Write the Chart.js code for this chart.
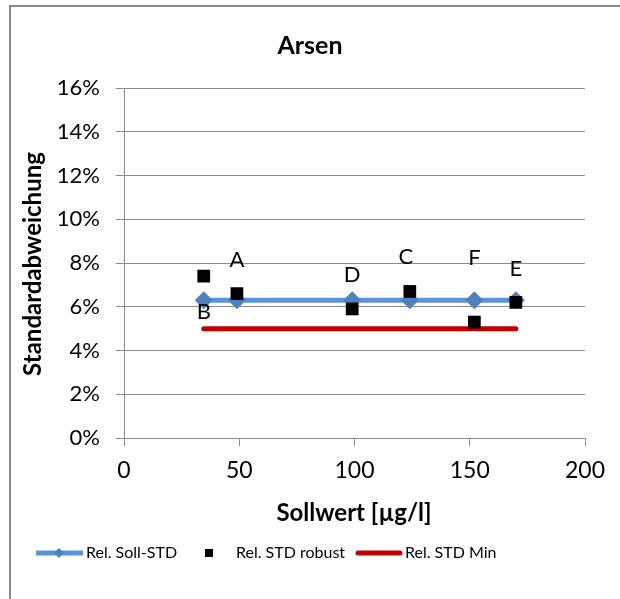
<!DOCTYPE html>
<html>
<head>
<meta charset="utf-8">
<script src="https://cdn.jsdelivr.net/npm/chart.js@4.4.1/dist/chart.umd.min.js"></script>
<style>
  html, body { margin: 0; padding: 0; background: #ffffff; }
  #wrap { position: relative; width: 620px; height: 599px; }
  canvas { display: block; }
</style>
</head>
<body>
<div id="wrap"><canvas id="c" width="620" height="599"></canvas></div>
<script>
// ---- data ----
const chartTitle = 'Arsen';
const xAxisTitle = 'Sollwert [µg/l]';
const yAxisTitle = 'Standardabweichung';
const sollwerte = [34.6, 49, 99, 124, 152, 170];
const relSollStd = [0.063, 0.063, 0.063, 0.063, 0.063, 0.063];
const relStdRobust = [0.074, 0.066, 0.059, 0.067, 0.053, 0.062];
const relStdMinX = [34.6, 170];
const relStdMin = [0.05, 0.05];
const pointLabels = ['B', 'A', 'D', 'C', 'F', 'E'];
const seriesNames = ['Rel. Soll-STD', 'Rel. STD robust', 'Rel. STD Min'];
const yTicks = [0, 0.02, 0.04, 0.06, 0.08, 0.10, 0.12, 0.14, 0.16];
const xTicks = [0, 50, 100, 150, 200];

const FONT = 'Lato, "Open Sans", sans-serif';
const BLUE_LINE = '#5b95d6';
const BLUE_MARK = '#4f81bd';
const RED = '#c00000';
const GRID = '#8c8c8c';

const toPts = (xs, ys) => xs.map((x, i) => ({ x: x, y: ys[i] }));

const decoPlugin = {
  id: 'deco',
  afterDraw(chart, args, opts) {
    const ctx = chart.ctx;
    ctx.save();
    // outer frame (left and top edges visible)
    ctx.strokeStyle = '#888888';
    ctx.lineWidth = 2;
    ctx.beginPath();
    ctx.moveTo(10, 599);
    ctx.lineTo(10, 6);
    ctx.lineTo(620, 6);
    ctx.stroke();

    // chart title
    ctx.fillStyle = '#000';
    ctx.textAlign = 'center';
    ctx.textBaseline = 'middle';
    ctx.font = 'bold 25px ' + FONT;
    ctx.fillText(chartTitle, 310, 46);

    // axis titles
    ctx.font = 'bold 24px ' + FONT;
    ctx.fillText(xAxisTitle, 354, 513);
    ctx.save();
    ctx.translate(33, 264);
    ctx.rotate(-Math.PI / 2);
    ctx.fillText(yAxisTitle, 0, 0);
    ctx.restore();

    // point labels (attached to the robust points)
    const meta = chart.getDatasetMeta(0);
    ctx.font = '22px ' + FONT;
    const offs = opts.labelOffsets;
    meta.data.forEach((el, i) => {
      const o = offs[i];
      ctx.fillText(pointLabels[i], el.x + o[0], el.y + o[1]);
    });

    // legend
    const ly = 553;
    ctx.font = '16px ' + FONT;
    ctx.textAlign = 'left';
    // series 1: blue line with diamond
    ctx.strokeStyle = BLUE_LINE;
    ctx.lineWidth = 5;
    ctx.lineCap = 'butt';
    ctx.beginPath(); ctx.moveTo(36, ly); ctx.lineTo(83, ly); ctx.stroke();
    ctx.fillStyle = BLUE_MARK;
    ctx.beginPath();
    ctx.moveTo(59 - 5, ly); ctx.lineTo(59, ly - 5); ctx.lineTo(59 + 5, ly); ctx.lineTo(59, ly + 5);
    ctx.closePath(); ctx.fill();
    ctx.fillStyle = '#000';
    ctx.fillText(seriesNames[0], 86, ly);
    // series 2: black square
    ctx.fillRect(205, ly - 4, 8, 8);
    ctx.fillText(seriesNames[1], 236, ly);
    // series 3: red line
    ctx.strokeStyle = RED;
    ctx.lineCap = 'round';
    ctx.beginPath(); ctx.moveTo(358, ly); ctx.lineTo(400, ly); ctx.stroke();
    ctx.fillText(seriesNames[2], 405, ly);
    ctx.restore();
  }
};

new Chart(document.getElementById('c'), {
  type: 'scatter',
  data: {
    datasets: [
      {
        label: seriesNames[1],
        data: toPts(sollwerte, relStdRobust),
        showLine: false,
        pointStyle: 'rect',
        pointRadius: 9,
        pointBackgroundColor: '#000',
        pointBorderColor: '#000',
        pointBorderWidth: 0
      },
      {
        label: seriesNames[0],
        data: toPts(sollwerte, relSollStd),
        showLine: true,
        borderColor: BLUE_LINE,
        borderWidth: 5,
        pointStyle: 'rectRot',
        pointRadius: 9,
        pointBackgroundColor: BLUE_MARK,
        pointBorderColor: BLUE_MARK,
        pointBorderWidth: 0
      },
      {
        label: seriesNames[2],
        data: toPts(relStdMinX, relStdMin),
        showLine: true,
        borderColor: RED,
        borderWidth: 5,
        borderCapStyle: 'round',
        pointRadius: 0
      }
    ]
  },
  options: {
    responsive: false,
    animation: false,
    events: [],
    layout: { padding: { left: 0, top: 88, right: 35, bottom: 0 } },
    plugins: {
      legend: { display: false },
      title: { display: false },
      tooltip: { enabled: false },
      deco: { labelOffsets: [[0, 36], [0, -34], [0, -34], [-4, -35], [0, -64], [0, -33]] }
    },
    scales: {
      x: {
        type: 'linear',
        min: 0, max: 200,
        afterBuildTicks: s => { s.ticks = xTicks.map(v => ({ value: v })); },
        ticks: { font: { family: FONT, size: 23 }, color: '#000', padding: 11, maxRotation: 0 },
        grid: { drawOnChartArea: false, drawTicks: true, tickLength: 8, color: GRID, lineWidth: 1 },
        border: { display: true, color: GRID, width: 1 },
        afterFit: s => { s.height = 161; }
      },
      y: {
        type: 'linear',
        min: 0, max: 0.16,
        afterBuildTicks: s => { s.ticks = yTicks.map(v => ({ value: v })); },
        ticks: {
          font: { family: FONT, size: 22 }, color: '#000', padding: 16,
          callback: v => Math.round(v * 100) + '%'
        },
        grid: { drawTicks: true, tickLength: 8, color: GRID, lineWidth: 1 },
        border: { display: true, color: GRID, width: 1 },
        afterFit: s => { s.width = 124; }
      }
    }
  },
  plugins: [decoPlugin]
});
</script>
</body>
</html>
